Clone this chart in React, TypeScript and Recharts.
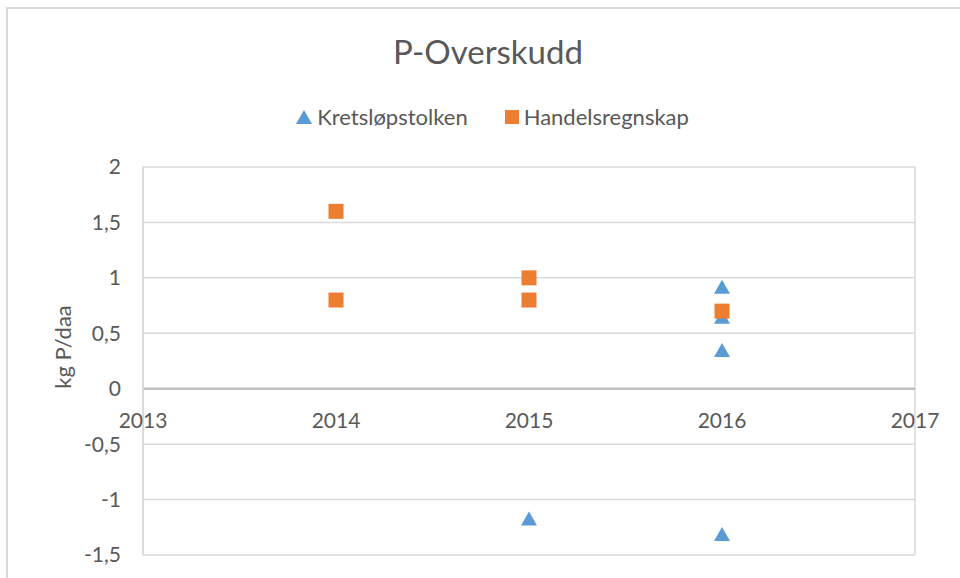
import React from "react";
import {
  ScatterChart,
  Scatter,
  XAxis,
  YAxis,
  CartesianGrid,
  ReferenceLine,
  ReferenceDot,
} from "recharts";

// kategorier / akser
const years = [2013, 2014, 2015, 2016, 2017];
const yTicks = [-1.5, -1, -0.5, 0, 0.5, 1, 1.5, 2];

// Kretsløpstolken (trekanter)
const kretslopX = [2015, 2016, 2016, 2016, 2016];
const kretslopY = [-1.17, 0.92, 0.65, 0.35, -1.31];

// Handelsregnskap (kvadrater)
const handelX = [2014, 2014, 2015, 2015, 2016];
const handelY = [1.6, 0.8, 1.0, 0.8, 0.7];

const BLUE = "#5b9bd5";
const ORANGE = "#ed7d31";
const TEXT = "#595959";
const GRID = "#d9d9d9";
const FONT = "Lato, 'Open Sans', sans-serif";

const kretslop = kretslopX.map((x, i) => ({ x, y: kretslopY[i] }));
const handel = handelX.map((x, i) => ({ x, y: handelY[i] }));

const Triangle = (props: any) => {
  const { cx, cy } = props;
  const w = 16;
  const h = 14;
  return (
    <polygon
      points={`${cx},${cy - h / 2} ${cx + w / 2},${cy + h / 2} ${cx - w / 2},${cy + h / 2}`}
      fill={BLUE}
    />
  );
};

const Square = (props: any) => {
  const { cx, cy } = props;
  const s = 15;
  return <rect x={cx - s / 2} y={cy - s / 2} width={s} height={s} fill={ORANGE} />;
};

const fmt = (v: number) => String(v).replace(".", ",");

export default function App() {
  return (
    <div
      style={{
        position: "absolute",
        left: 0,
        top: 0,
        width: 960,
        height: 578,
        overflow: "hidden",
        background: "#fff",
        fontFamily: FONT,
      }}
    >
      {/* ramme rundt diagrammet */}
      <div
        style={{
          position: "absolute",
          left: 6,
          top: 7,
          width: 1000,
          height: 700,
          border: "2px solid #d9d9d9",
        }}
      />
      <div
        style={{
          position: "absolute",
          top: 31,
          left: 8,
          width: 960,
          textAlign: "center",
          fontSize: 33,
          color: TEXT,
        }}
      >
        P-Overskudd
      </div>
      {/* forklaring */}
      <div
        style={{
          position: "absolute",
          top: 103,
          left: 0,
          width: 960,
          display: "flex",
          justifyContent: "center",
          alignItems: "center",
          fontSize: 22,
          color: TEXT,
          paddingLeft: 25,
          boxSizing: "border-box",
        }}
      >
        <svg width={16} height={14} style={{ marginRight: 5 }}>
          <polygon points="8,0 16,14 0,14" fill={BLUE} />
        </svg>
        <span>Kretsløpstolken</span>
        <svg width={14} height={14} style={{ marginLeft: 37, marginRight: 5 }}>
          <rect width={14} height={14} fill={ORANGE} />
        </svg>
        <span>Handelsregnskap</span>
      </div>
      <div style={{ position: "absolute", left: 0, top: 0 }}>
        <ScatterChart
          width={960}
          height={578}
          margin={{ top: 167, right: 45, bottom: 23, left: 0 }}
        >
          <CartesianGrid stroke={GRID} strokeWidth={1.5} />
          <XAxis
            type="number"
            dataKey="x"
            domain={[2013, 2017]}
            ticks={years}
            tick={false}
            tickLine={false}
            axisLine={false}
            height={0}
          />
          <YAxis
            type="number"
            dataKey="y"
            domain={[-1.5, 2]}
            ticks={yTicks}
            width={143}
            tickLine={false}
            axisLine={{ stroke: GRID, strokeWidth: 1.5 }}
            tickMargin={16}
            tickFormatter={fmt}
            tick={{ fill: TEXT, fontSize: 21, fontFamily: FONT }}
            label={{
              content: (p: any) => {
                const vb = p.viewBox;
                const cx = 62;
                const cy = vb.y + vb.height / 2 - 14;
                return (
                  <text
                    x={cx}
                    y={cy}
                    transform={`rotate(-90 ${cx} ${cy})`}
                    textAnchor="middle"
                    dominantBaseline="central"
                    fill={TEXT}
                    fontSize={22}
                    fontFamily={FONT}
                  >
                    kg P/daa
                  </text>
                );
              },
            }}
          />
          <ReferenceLine y={0} stroke="#bfbfbf" strokeWidth={2.5} />
          {years.map((yr) => (
            <ReferenceDot
              key={yr}
              x={yr}
              y={0}
              r={0}
              fill="none"
              stroke="none"
              ifOverflow="visible"
              label={{
                value: String(yr),
                position: "bottom",
                offset: 24,
                fill: TEXT,
                fontSize: 21,
                fontFamily: FONT,
              }}
            />
          ))}
          <Scatter
            name="Kretsløpstolken"
            data={kretslop}
            shape={Triangle}
            isAnimationActive={false}
          />
          <Scatter
            name="Handelsregnskap"
            data={handel}
            shape={Square}
            isAnimationActive={false}
          />
        </ScatterChart>
      </div>
    </div>
  );
}
